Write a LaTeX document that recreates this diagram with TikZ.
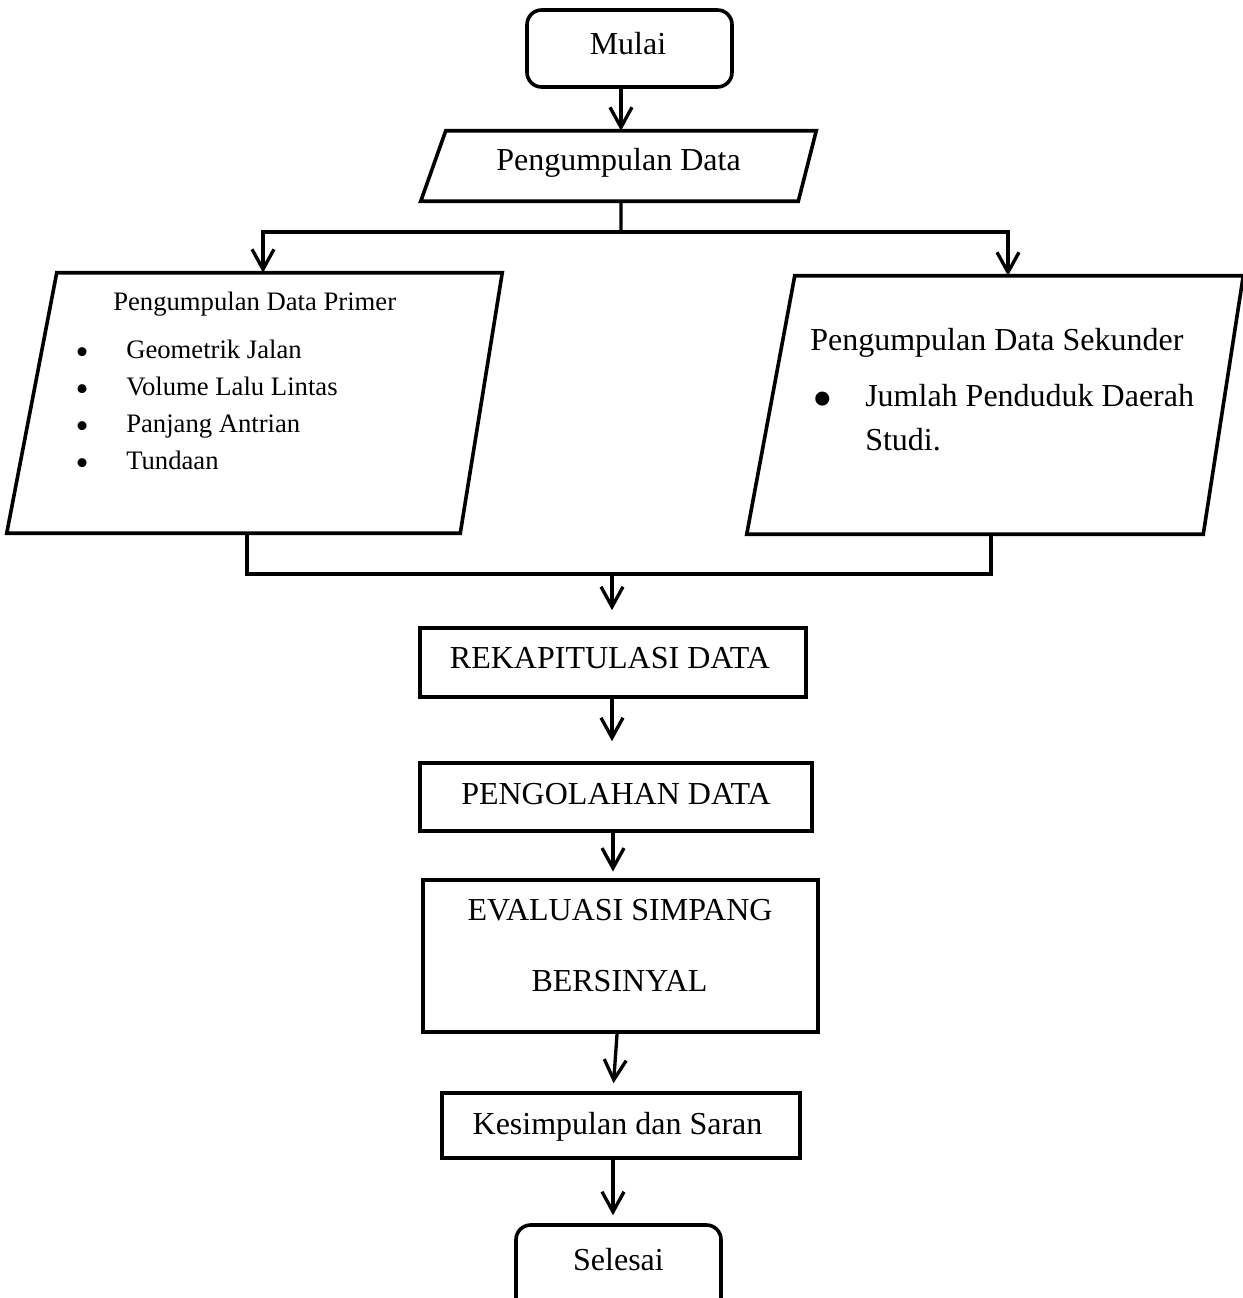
\documentclass[tikz,border=0pt]{standalone}
\usepackage{fontspec}
\setmainfont{Liberation Serif}
\newfontfamily\bulfont{DejaVu Sans}
\usetikzlibrary{arrows.meta}
\begin{document}
\begin{tikzpicture}[x=0.75pt,y=-0.75pt,
  box/.style={draw, rectangle, line width=2.7pt, inner sep=0pt},
  term/.style={draw, rectangle, rounded corners=11pt, line width=2.7pt, inner sep=0pt},
  para/.style 2 args={rectangle, inner sep=0pt,
     append after command={\pgfextra{\draw[line width=2.7pt, line join=miter]
       ([xshift=#1]\tikzlastnode.north west) -- (\tikzlastnode.north east)
       -- ([xshift=-#2]\tikzlastnode.south east) -- (\tikzlastnode.south west) -- cycle;}}},
  lbl/.style={font=\fontsize{24pt}{29pt}\selectfont, inner sep=0pt, anchor=base},
  lblw/.style={font=\fontsize{24pt}{29pt}\selectfont, inner sep=0pt, anchor=base west},
  sml/.style={font=\fontsize{20pt}{24pt}\selectfont, inner sep=0pt, anchor=base west},
  bulS/.style={font=\bulfont\fontsize{23pt}{27pt}\selectfont, inner sep=0pt, anchor=base},
  bulL/.style={font=\fontsize{44pt}{52pt}\selectfont, inner sep=0pt, anchor=base},
  ln/.style={line width=2.5pt},
  arr/.style={ln, -{Straight Barb[length=15pt,width=16.5pt]}}
]
\useasboundingbox (0,0) rectangle (1242,1298);

% shapes
\node[term, minimum width=153.75pt, minimum height=57.75pt] (mulai) at (629.5,48.5) {};
\node[para={18.75pt}{13.5pt}, minimum width=296.25pt, minimum height=52.5pt] (pd) at (618.5,166) {};
\node[para={37.5pt}{31.5pt}, minimum width=371.25pt, minimum height=195pt] (prim) at (254.5,403) {};
\node[para={36pt}{30pt}, minimum width=372pt, minimum height=193.5pt] (sek) at (995,405) {};
\node[box, minimum width=289.5pt, minimum height=51.75pt] (rekap) at (613,662.5) {};
\node[box, minimum width=294pt, minimum height=51pt] (olah) at (616,797) {};
\node[box, minimum width=296.25pt, minimum height=114pt] (eval) at (620.5,956) {};
\node[box, minimum width=268.5pt, minimum height=48.75pt] (kes) at (621,1125.5) {};
\node[term, minimum width=153.75pt, minimum height=67.5pt] (sel) at (618.5,1270) {};

% texts
\node[lbl] (tmulai) at (628,54.3) {Mulai};
\node[lbl] (tpd) at (618.5,170.7) {Pengumpulan Data};
\node[sml] (tprim) at (113,310) {Pengumpulan Data Primer};
\node[bulS] (b1) at (83,363.3) {•};
\node[bulS] (b2) at (83,400) {•};
\node[bulS] (b3) at (83,437) {•};
\node[bulS] (b4) at (83,474.3) {•};
\node[sml] (i1) at (126,358.3) {Geometrik Jalan};
\node[sml] (i2) at (126,395) {Volume Lalu Lintas};
\node[sml] (i3) at (126,432) {Panjang Antrian};
\node[sml] (i4) at (126,469.3) {Tundaan};
\node[lblw] (tsek) at (810,350.7) {Pengumpulan Data Sekunder};
\node[bulL] (bs) at (823,418) {•};
\node[lblw] (s1) at (865,406.7) {Jumlah Penduduk Daerah};
\node[lblw] (s2) at (865,450.7) {Studi.};
\node[lbl] (trekap) at (610,668.3) {REKAPITULASI DATA};
\node[lbl] (tolah) at (616,804) {PENGOLAHAN DATA};
\node[lbl] (teval1) at (620,920) {EVALUASI SIMPANG};
\node[lbl] (teval2) at (619.5,991.7) {BERSINYAL};
\node[lbl] (tkes) at (617.5,1134) {Kesimpulan dan Saran};
\node[lbl] (tsel) at (618.5,1270) {Selesai};

% junction coordinates
\coordinate (j1) at (621,232);
\coordinate (jl) at (263,232);
\coordinate (jr) at (1008,232);
\coordinate (kl) at (247,574);
\coordinate (kr) at (991,574);
\coordinate (k1) at (612,574);

% connectors
\draw[arr] ([xshift=-6.4pt]mulai.south) -- ([xshift=-6.4pt]mulai.south |- pd.north);
\draw[ln] ([xshift=1.9pt]pd.south) -- (j1);
\draw[arr] (j1) -- (jl) -- (jl |- prim.north);
\draw[arr] (j1) -- (jr) -- (jr |- sek.north);
\draw[ln] (kl |- prim.south) -- (kl) -- (kr) -- (kr |- sek.south);
\draw[arr, shorten >=12pt] (k1) -- (k1 |- rekap.north);
\draw[arr, shorten >=15pt] ([xshift=-0.75pt]rekap.south) -- ([xshift=-0.75pt]rekap.south |- olah.north);
\draw[arr, shorten >=5pt] ([xshift=-2.25pt]olah.south) -- ([xshift=-2.25pt]olah.south |- eval.north);
\draw[arr, shorten >=6pt] ([xshift=-2.6pt]eval.south) -- ([xshift=-6pt]kes.north);
\draw[arr, shorten >=6pt] ([xshift=-6pt]kes.south) -- ([xshift=-6pt]kes.south |- sel.north);
\end{tikzpicture}
\end{document}
